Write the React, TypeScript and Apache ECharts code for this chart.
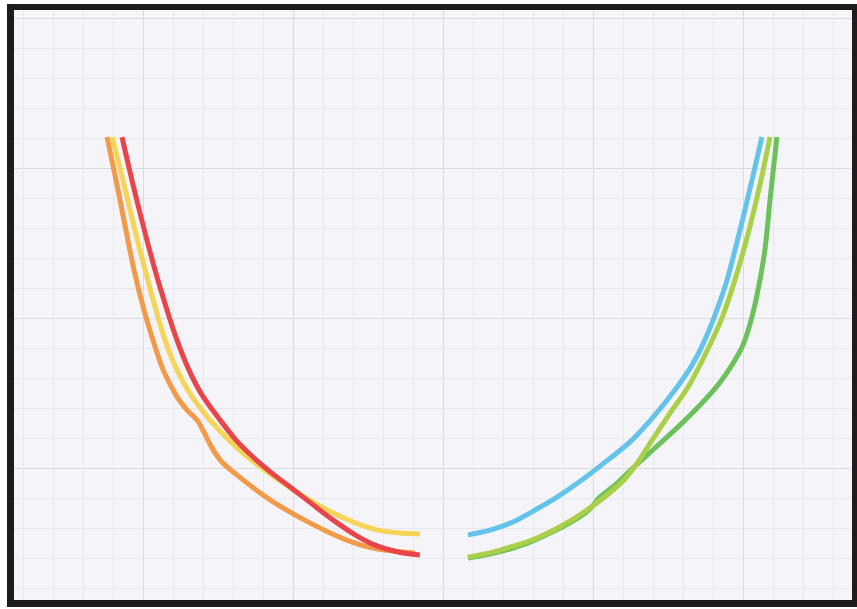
import React, { useEffect, useRef } from "react";
import * as echarts from "echarts";

// x, y values in grid-cell units (one cell of the graph paper = 1)
const orangeX = [3.8, 4.1, 4.43, 4.7, 5.03, 5.33, 5.67, 6.1, 6.47, 6.8, 7.03, 7.3, 7.63, 8.13, 8.77, 9.5, 10.37, 11.17, 11.97, 12.83, 14.07];
const orangeY = [16.03, 14.6, 12.93, 11.6, 10.27, 9.27, 8.27, 7.43, 6.93, 6.6, 6.2, 5.67, 5.2, 4.77, 4.27, 3.77, 3.27, 2.87, 2.53, 2.3, 2.17];

const yellowX = [3.97, 4.33, 4.73, 5.07, 5.43, 5.73, 6.13, 6.6, 7.23, 8.03, 8.83, 9.63, 10.43, 11.27, 12.07, 12.83, 13.57, 14.23];
const yellowY = [16.03, 14.6, 12.93, 11.6, 10.27, 9.27, 8.27, 7.43, 6.6, 5.77, 5.1, 4.53, 4.0, 3.53, 3.17, 2.93, 2.83, 2.8];

const redX = [4.3, 4.63, 5.0, 5.4, 5.8, 6.13, 6.53, 6.97, 7.57, 8.1, 8.77, 9.37, 10.03, 10.67, 11.33, 12.07, 12.73, 13.5, 14.23];
const redY = [16.03, 14.6, 13.1, 11.6, 10.27, 9.27, 8.27, 7.43, 6.6, 5.93, 5.27, 4.77, 4.27, 3.77, 3.27, 2.77, 2.43, 2.2, 2.1];

const blueX = [25.63, 25.3, 24.9, 24.47, 24.13, 23.73, 23.3, 22.73, 22.07, 21.3, 20.5, 19.63, 18.8, 18.07, 17.33, 16.57, 15.83];
const blueY = [16.03, 14.6, 12.93, 11.27, 10.27, 9.27, 8.43, 7.6, 6.77, 5.93, 5.27, 4.6, 4.03, 3.6, 3.2, 2.93, 2.77];

const greenX = [26.13, 25.9, 25.73, 25.5, 25.27, 25.0, 24.63, 24.17, 23.57, 22.9, 22.1, 21.33, 20.73, 20.23, 19.83, 19.23, 18.57, 17.9, 17.23, 16.57, 15.83];
const greenY = [16.03, 13.93, 12.27, 10.93, 9.93, 9.1, 8.43, 7.77, 7.1, 6.43, 5.7, 5.0, 4.43, 4.03, 3.57, 3.17, 2.83, 2.53, 2.3, 2.13, 2.0];

const limeX = [25.9, 25.6, 25.2, 24.73, 24.27, 23.7, 23.17, 22.57, 21.97, 21.5, 21.03, 20.47, 19.9, 19.3, 18.63, 17.97, 17.27, 16.57, 15.83];
const limeY = [16.03, 14.6, 12.93, 11.27, 9.93, 8.7, 7.7, 6.83, 5.93, 5.2, 4.6, 4.1, 3.67, 3.27, 2.9, 2.6, 2.37, 2.17, 2.03];

const zip = (xs: number[], ys: number[]) => xs.map((x, i) => [x, ys[i]]);

const curves = [
  { name: "orange", x: orangeX, y: orangeY, color: "#f39a48" },
  { name: "yellow", x: yellowX, y: yellowY, color: "#f6d458" },
  { name: "red", x: redX, y: redY, color: "#e8454a" },
  { name: "blue", x: blueX, y: blueY, color: "#63c3ea" },
  { name: "green", x: greenX, y: greenY, color: "#6cc15c" },
  { name: "lime", x: limeX, y: limeY, color: "#aacf48" },
];

// chart canvas is offset so that the paper grid lines fall where they do in the photo
const OX = 7;
const OY = 132;

export default function App() {
  const ref = useRef<HTMLDivElement>(null);
  useEffect(() => {
    document.body.style.margin = "0";
    const chart = echarts.init(ref.current!, null, { renderer: "svg" });
    const frame = "#211a1c";
    chart.setOption({
      animation: false,
      backgroundColor: "#ffffff",
      grid: {
        show: true,
        left: 0,
        right: 0,
        top: 0,
        bottom: 0,
        backgroundColor: "#f5f5f9",
        borderWidth: 0,
      },
      xAxis: {
        type: "value",
        min: 0,
        max: 30,
        interval: 5,
        axisLine: { show: false },
        axisTick: { show: false },
        axisLabel: { show: false },
        splitLine: { show: true, lineStyle: { color: "#dadae2", width: 1 } },
        minorTick: { show: false, splitNumber: 5 },
        minorSplitLine: { show: true, lineStyle: { color: "#e8e8ef", width: 1 } },
      },
      yAxis: {
        type: "value",
        min: 0,
        max: 25,
        interval: 5,
        axisLine: { show: false },
        axisTick: { show: false },
        axisLabel: { show: false },
        splitLine: { show: true, lineStyle: { color: "#dadae2", width: 1 } },
        minorTick: { show: false, splitNumber: 5 },
        minorSplitLine: { show: true, lineStyle: { color: "#e8e8ef", width: 1 } },
      },
      series: curves.map((c) => ({
        type: "line",
        name: c.name,
        data: zip(c.x, c.y),
        smooth: 0.3,
        showSymbol: false,
        symbol: "none",
        lineStyle: { color: c.color, width: 5, cap: "butt", join: "round" },
        itemStyle: { color: c.color },
      })),
      graphic: [
        {
          type: "group",
          x: OX,
          y: OY,
          z: 100,
          children: [
            { type: "rect", z: 100, shape: { x: 0, y: 0, width: 7, height: 609 }, style: { fill: "#ffffff" } },
            { type: "rect", z: 100, shape: { x: 0, y: 0, width: 857, height: 4 }, style: { fill: "#ffffff" } },
            { type: "rect", z: 100, shape: { x: 0, y: 607, width: 857, height: 2 }, style: { fill: "#ffffff" } },
            { type: "rect", z: 101, shape: { x: 7, y: 4, width: 7, height: 603 }, style: { fill: frame } },
            { type: "rect", z: 101, shape: { x: 7, y: 4, width: 850, height: 6 }, style: { fill: frame } },
            { type: "rect", z: 101, shape: { x: 852, y: 4, width: 5, height: 603 }, style: { fill: frame } },
            { type: "rect", z: 101, shape: { x: 7, y: 600, width: 850, height: 7 }, style: { fill: frame } },
          ],
        },
      ],
    });
    return () => chart.dispose();
  }, []);
  return (
    <div
      style={{
        position: "fixed",
        left: 0,
        top: 0,
        width: 857,
        height: 609,
        overflow: "hidden",
        background: "#ffffff",
      }}
    >
      <div
        ref={ref}
        style={{ position: "absolute", left: -OX, top: -OY, width: 900, height: 750 }}
      />
    </div>
  );
}
